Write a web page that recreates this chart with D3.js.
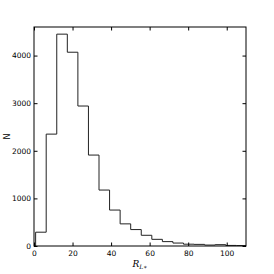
<!DOCTYPE html>
<html>
<head>
<meta charset="utf-8">
<script src="https://cdn.jsdelivr.net/npm/d3@7"></script>
<style>
  body { margin: 0; background: #fff; }
  .axis text { font-family: "DejaVu Sans", sans-serif; font-size: 7.5px; fill: #000; }
  .axis path, .axis line { stroke: #000; }
</style>
</head>
<body>
<div id="chart"></div>
<script>
// bin edges (left edges plus final right edge)
const binEdges = [0.85, 6.33, 11.81, 17.29, 22.77, 28.25, 33.73, 39.21, 44.69, 50.17,
  55.65, 61.13, 66.61, 72.09, 77.57, 83.05, 88.53, 94.01, 99.49, 104.97, 110.45];
// counts per bin
const counts = [290, 2350, 4450, 4070, 2940, 1910, 1175, 755, 465, 345,
  225, 140, 92, 62, 38, 34, 20, 28, 12, 9];
const xTicks = [0, 20, 40, 60, 80, 100];
const yTicks = [0, 1000, 2000, 3000, 4000];

const width = 274, height = 274;
const margin = { top: 27, right: 28, bottom: 28, left: 34 };
const innerW = width - margin.left - margin.right;
const innerH = height - margin.top - margin.bottom;

const svg = d3.select('#chart').append('svg')
  .attr('width', width)
  .attr('height', height);

const plot = svg.append('g')
  .attr('transform', `translate(${margin.left},${margin.top})`);

const x = d3.scaleLinear().domain([0, 110]).range([0, innerW]);
const y = d3.scaleLinear().domain([0, 4600]).range([innerH, 0]);

svg.append('clipPath').attr('id', 'clip')
  .append('rect').attr('width', innerW).attr('height', innerH);

// step outline of the histogram
const pts = [[binEdges[0], 0]];
counts.forEach((c, i) => pts.push([binEdges[i], c]));
pts.push([binEdges[binEdges.length - 1], 0]);

const step = d3.line()
  .x(d => x(d[0]))
  .y(d => y(d[1]))
  .curve(d3.curveStepAfter);

plot.append('path')
  .attr('clip-path', 'url(#clip)')
  .attr('d', step(pts))
  .attr('fill', 'none')
  .attr('stroke', '#222')
  .attr('stroke-width', 1);

// axes with inward ticks on all four sides
const tl = 3.5;
const fmt = d3.format('d');
plot.append('g').attr('class', 'axis')
  .attr('transform', `translate(0,${innerH})`)
  .call(d3.axisBottom(x).tickValues(xTicks).tickSizeInner(-tl).tickSizeOuter(0).tickPadding(5).tickFormat(fmt))
  .call(g => g.select('.domain').remove());
plot.append('g').attr('class', 'axis')
  .call(d3.axisTop(x).tickValues(xTicks).tickSizeInner(-tl).tickSizeOuter(0).tickFormat(''))
  .call(g => g.select('.domain').remove());
plot.append('g').attr('class', 'axis')
  .call(d3.axisLeft(y).tickValues(yTicks).tickSizeInner(-tl).tickSizeOuter(0).tickPadding(3).tickFormat(fmt))
  .call(g => g.select('.domain').remove());
plot.append('g').attr('class', 'axis')
  .attr('transform', `translate(${innerW},0)`)
  .call(d3.axisRight(y).tickValues(yTicks).tickSizeInner(-tl).tickSizeOuter(0).tickFormat(''))
  .call(g => g.select('.domain').remove());

// frame
plot.append('rect')
  .attr('width', innerW)
  .attr('height', innerH)
  .attr('fill', 'none')
  .attr('stroke', '#000')
  .attr('stroke-width', 1);

// axis titles
svg.append('text')
  .attr('transform', `translate(7,${margin.top + innerH / 2}) rotate(-90)`)
  .attr('text-anchor', 'middle')
  .attr('dominant-baseline', 'middle')
  .style('font-family', '"DejaVu Sans", sans-serif')
  .style('font-size', '8px')
  .text('N');

const xl = svg.append('text')
  .attr('x', margin.left + innerW / 2)
  .attr('y', 267)
  .attr('text-anchor', 'middle')
  .style('font-family', '"DejaVu Serif", serif')
  .style('font-style', 'italic')
  .style('font-size', '9px');
xl.append('tspan').text('R');
xl.append('tspan').attr('dy', 2).style('font-size', '6px').text('L∗');
</script>
</body>
</html>
